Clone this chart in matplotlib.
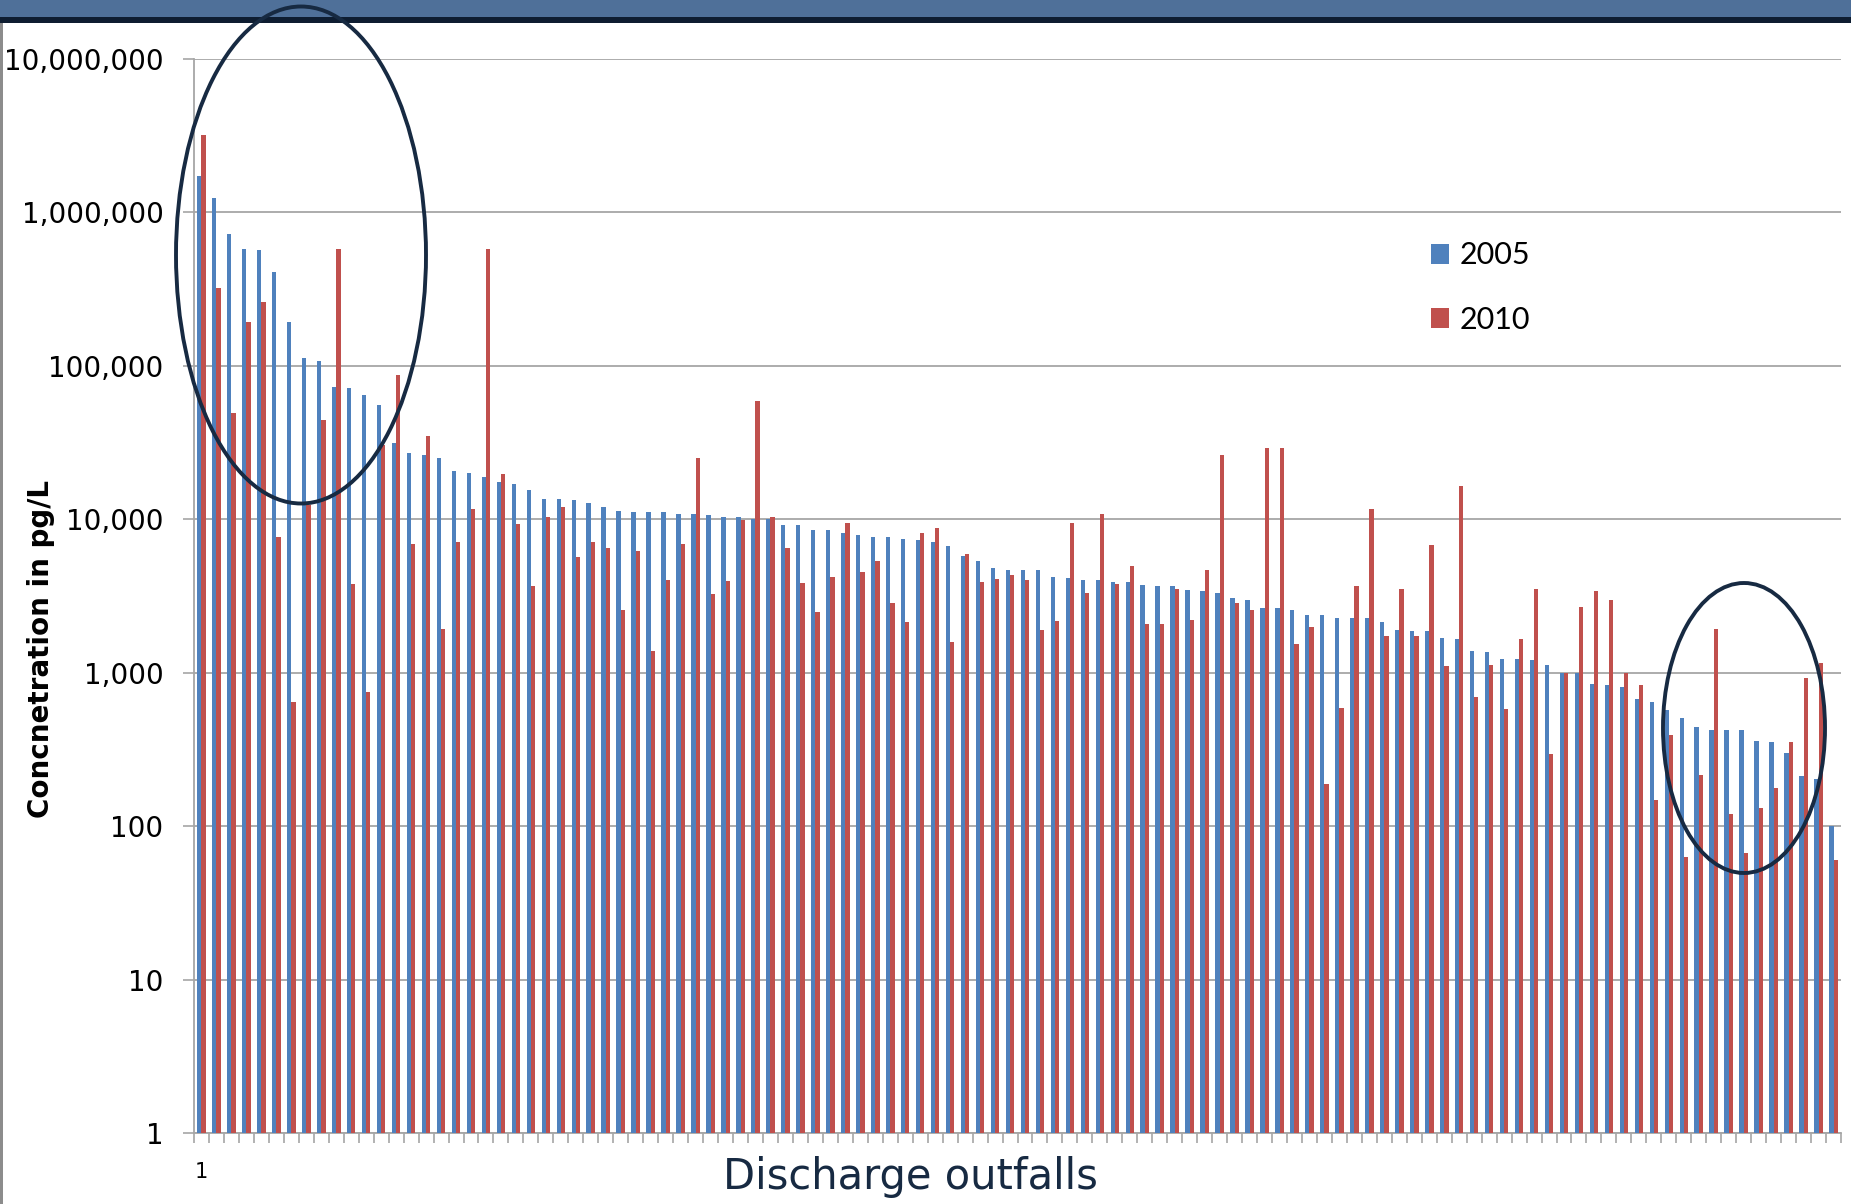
import numpy as np
import matplotlib
matplotlib.use("Agg")
import matplotlib.pyplot as plt
from matplotlib.patches import Ellipse, Rectangle, Patch
from matplotlib.ticker import FixedLocator, FuncFormatter, NullLocator

# -----------------------------
# Concentration per outfall (pg/L)
# -----------------------------
conc_2005 = [
    1725000, 1246000, 727000, 577000, 565000, 412000, 193000, 113000, 108000, 73300,
    71800, 64600, 55200, 31600, 27000, 26100, 25000, 20500, 20100, 18800,
    17500, 17100, 15600, 13600, 13600, 13300, 12800, 12100, 11400, 11100,
    11100, 11100, 10900, 10900, 10700, 10300, 10300, 10000, 10000, 9120,
    9120, 8560, 8560, 8120, 7870, 7620, 7620, 7460, 7310, 7160,
    6650, 5740, 5330, 4850, 4700, 4650, 4650, 4180, 4140, 4050,
    4050, 3930, 3890, 3720, 3650, 3650, 3460, 3390, 3320, 3050,
    2960, 2660, 2660, 2550, 2370, 2370, 2290, 2290, 2270, 2130,
    1900, 1860, 1860, 1690, 1660, 1380, 1360, 1220, 1220, 1210,
    1130, 1000, 1000, 845, 827, 809, 677, 642, 572, 509,
    444, 426, 426, 426, 360, 352, 301, 213, 202, 100,
]
conc_2010 = [
    3177000, 320000, 49100, 193000, 259000, 7620, 649, 12400, 44200, 577000,
    3800, 744, 30300, 86700, 6930, 35100, 1940, 7080, 11700, 577000,
    19700, 9310, 3690, 10400, 12100, 5680, 7160, 6510, 2550, 6180,
    1380, 4050, 6860, 25000, 3250, 3970, 9910, 58800, 10400, 6510,
    3840, 2470, 4180, 9400, 4550, 5330, 2830, 2130, 8200, 8740,
    1590, 5980, 3890, 4100, 4360, 4010, 1900, 2180, 9400, 3320,
    10800, 3760, 4950, 2070, 2090, 3500, 2220, 4700, 26100, 2830,
    2550, 29300, 29000, 1540, 1980, 189, 590, 3690, 11700, 1730,
    3530, 1730, 6790, 1100, 16600, 691, 1130, 578, 1660, 3530,
    294, 1000, 2690, 3390, 2960, 1000, 827, 149, 391, 63,
    217, 1920, 120, 67, 132, 178, 352, 929, 1150, 60,
]
years = ["2005", "2010"]
colors = ["#4f81bd", "#c0504d"]
y_ticks = [1, 10, 100, 1000, 10000, 100000, 1000000, 10000000]

W, H = 1851, 1204
fig = plt.figure(figsize=(W / 100, H / 100), dpi=100)
fig.patch.set_facecolor("white")

ax = fig.add_axes([194 / W, 1 - 1133 / H, (1841 - 194) / W, (1133 - 59) / H])

x = np.arange(1, len(conc_2005) + 1)
bw = 0.286
ax.bar(x - bw / 2, conc_2005, width=bw, color=colors[0], zorder=3)
ax.bar(x + bw / 2, conc_2010, width=bw, color=colors[1], zorder=3)

ax.set_yscale("log")
ax.set_ylim(1, 1e7)
ax.set_xlim(0.5, len(x) + 0.5)

# y axis: decade gridlines with comma labels
ax.yaxis.set_major_locator(FixedLocator(y_ticks))
ax.yaxis.set_minor_locator(NullLocator())
ax.yaxis.set_major_formatter(FuncFormatter(lambda v, p: f"{int(round(v)):,}"))
ax.grid(axis="y", color="#a6a6a6", linewidth=1.3, zorder=0)
ax.tick_params(axis="y", which="major", length=8, width=1.2, color="#a6a6a6",
               labelsize=20, pad=14, labelcolor="black")

# x axis: ticks at category boundaries, only the first outfall numbered
ax.set_xticks(np.arange(0.5, len(x) + 1, 1.0))
ax.set_xticklabels([])
ax.set_xticks([1], minor=True)
ax.set_xticklabels(["1"], minor=True)
ax.tick_params(axis="x", which="major", length=7, width=1.2, color="#a6a6a6")
ax.tick_params(axis="x", which="minor", length=0, labelsize=15, pad=21)

for s in ["top", "right"]:
    ax.spines[s].set_visible(False)
for s in ["left", "bottom"]:
    ax.spines[s].set_color("#a6a6a6")
    ax.spines[s].set_linewidth(1.3)

fig.text(41 / W, 1 - 649 / H, "Concnetration in pg/L", rotation=90,
         ha="center", va="center", fontsize=20, fontweight="bold")
fig.text(910 / W, 1 - 1177 / H, "Discharge outfalls", ha="center", va="center",
         fontsize=30, color="#172a42")

handles = [Patch(facecolor=c, edgecolor="none") for c in colors]
fig.legend(handles, years, loc="upper left", bbox_to_anchor=(1403 / W, 1 - 214 / H),
           frameon=False, handlelength=0.62, handleheight=0.62,
           handletextpad=0.33, labelspacing=1.18, prop={"family": "Lato", "size": 22})

# slide header band
fig.add_artist(Rectangle((0, 1 - 17 / H), 1, 17 / H, transform=fig.transFigure,
                         facecolor="#4f7099", edgecolor="none", zorder=5))
fig.add_artist(Rectangle((0, 1 - 23 / H), 1, 6 / H, transform=fig.transFigure,
                         facecolor="#0e1d31", edgecolor="none", zorder=5))
fig.add_artist(Rectangle((0, 0), 2.5 / W, 1 - 23 / H, transform=fig.transFigure,
                         facecolor="#8c8c8c", edgecolor="none", zorder=5))

# highlight rings
for cx, cy, ew, eh in [(301, 255, 250, 497), (1744, 728, 162, 290)]:
    fig.add_artist(Ellipse((cx / W, 1 - cy / H), ew / W, eh / H,
                           transform=fig.transFigure, fill=False,
                           edgecolor="#172a42", linewidth=2.8, zorder=10))

fig.savefig("out.png", dpi=100)
